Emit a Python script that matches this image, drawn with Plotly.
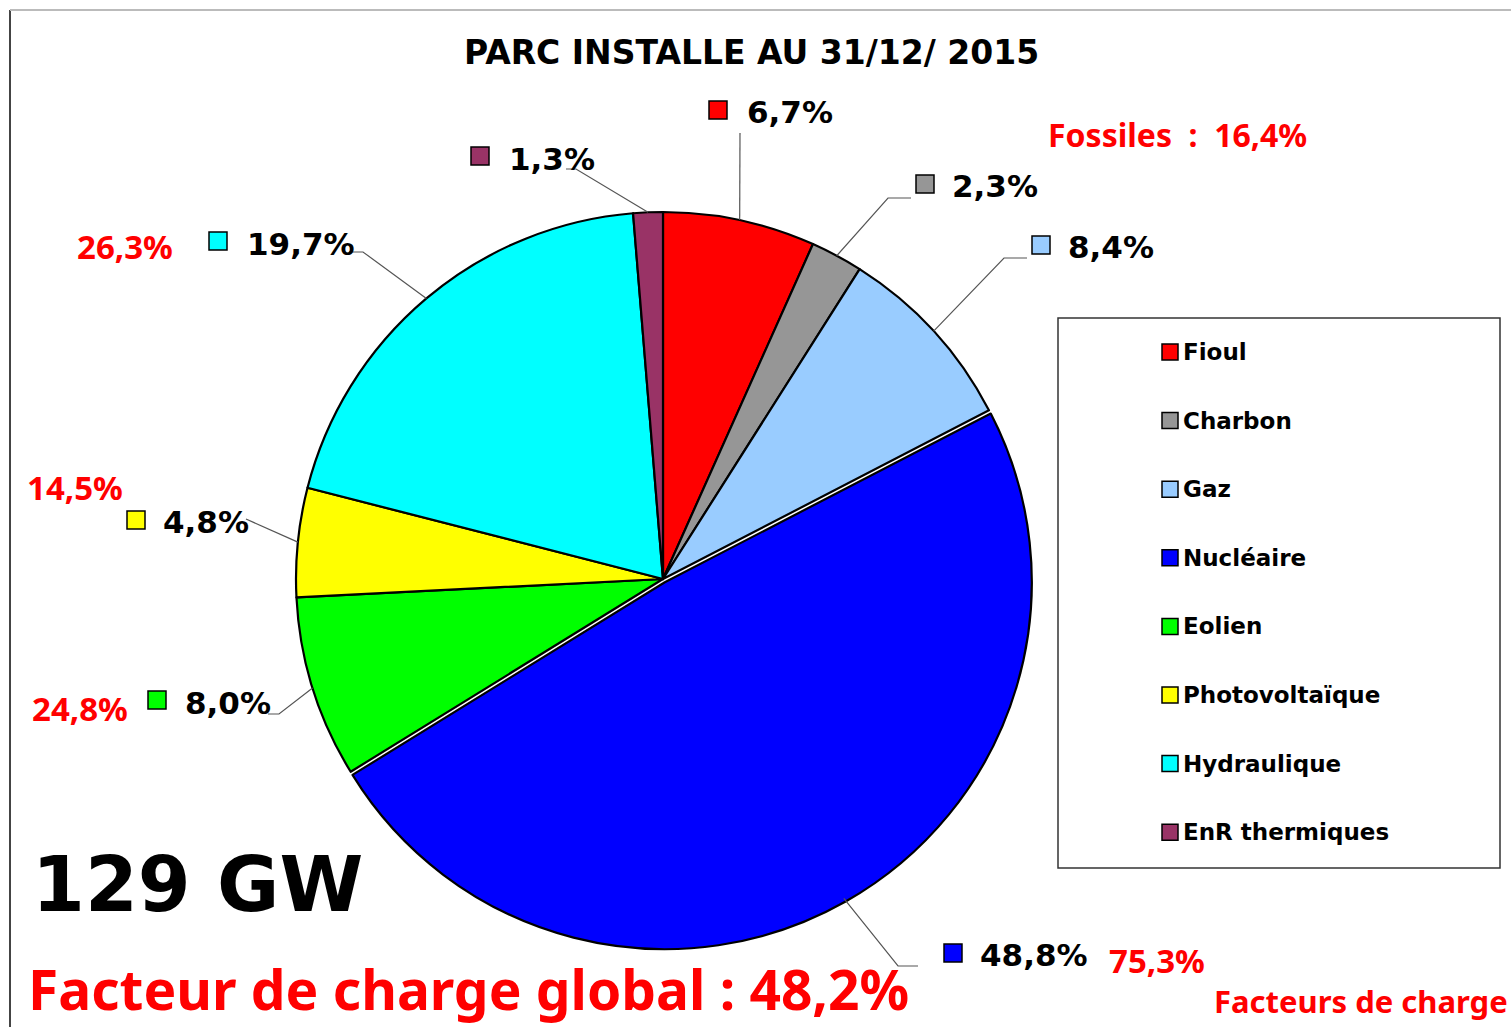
import math
import plotly.graph_objects as go

# ---------------- data ----------------
categories = ["Fioul", "Charbon", "Gaz", "Nucléaire", "Eolien", "Photovoltaïque", "Hydraulique", "EnR thermiques"]
shares = [6.7, 2.3, 8.4, 48.8, 8.0, 4.8, 19.7, 1.3]
share_labels = ["6,7%", "2,3%", "8,4%", "48,8%", "8,0%", "4,8%", "19,7%", "1,3%"]
load_factor_labels = {"Nucléaire": "75,3%", "Eolien": "24,8%", "Photovoltaïque": "14,5%", "Hydraulique": "26,3%"}
title_text = "PARC INSTALLE AU 31/12/ 2015"
fossil_text = "Fossiles  :  16,4%"
total_text = "129 GW"
global_lf_text = "Facteur de charge global : 48,2%"
lf_caption = "Facteurs de charge"

# ---------------- styles / layout ----------------
colors = ["#FF0000", "#969696", "#99CCFF", "#0000FF", "#00FF00", "#FFFF00", "#00FFFF", "#993366"]
pulls = [0, 0, 0, 0.01, 0, 0, 0, 0]
W, H = 1511, 1027
CX, CY, R = 663, 579, 367          # pie centre / radius in pixels
HALF = R * (1 + max(pulls))

def fx(x):
    return x / W

def fy(y):
    return 1 - y / H

# label placement (pixel layout): square centre, text left, text centre y, leader bend points
label_layout = [
    dict(sq=(718, 110), tx=745, ty=112, bend=[(740, 133)]),
    dict(sq=(925, 184), tx=950, ty=186, bend=[(888, 198), (911, 198)]),
    dict(sq=(1041, 245), tx=1066, ty=247, bend=[(1004, 258), (1027, 258)]),
    dict(sq=(953, 953), tx=978, ty=955, bend=[(898, 966), (918, 966)]),
    dict(sq=(157, 700), tx=183, ty=703, bend=[(279, 714), (268, 714)]),
    dict(sq=(136, 520), tx=161, ty=522, bend=[(246, 519)]),
    dict(sq=(218, 241), tx=245, ty=244, bend=[(363, 252), (349, 252)]),
    dict(sq=(480, 156), tx=507, ty=159, bend=[(576, 169), (566, 169)]),
]
lf_pos = {"Nucléaire": (1107, 960), "Eolien": (30, 708), "Photovoltaïque": (25, 488), "Hydraulique": (75, 247)}

BLACK_FONT = "DejaVu Sans"
RED_FONT = "Noto Sans"

fig = go.Figure()
fig.add_trace(go.Pie(
    labels=categories, values=shares, sort=False, direction="clockwise", rotation=0,
    marker=dict(colors=colors, line=dict(color="black", width=2.2)),
    pull=pulls, textinfo="none", hoverinfo="label+percent", showlegend=False,
    domain=dict(x=[fx(CX - HALF), fx(CX + HALF)], y=[fy(CY + HALF), fy(CY - HALF)]),
))

shapes = []
annotations = []

# frame
shapes.append(dict(type="line", xref="paper", yref="paper", x0=fx(10), x1=fx(10), y0=fy(10), y1=0,
                   line=dict(color="#444444", width=2)))
shapes.append(dict(type="line", xref="paper", yref="paper", x0=fx(10), x1=1, y0=fy(10), y1=fy(10),
                   line=dict(color="#BBBBBB", width=2)))

# slice labels with leader lines
total = sum(shares)
cum = 0.0
for i, (cat, v) in enumerate(zip(categories, shares)):
    mid = (cum + v / 2) / total * 2 * math.pi
    cum += v
    ex = CX + R * math.sin(mid)
    ey = CY - R * math.cos(mid)
    lay = label_layout[i]
    pts = [(ex, ey)] + lay["bend"]
    path = "M " + " L ".join(f"{fx(px)},{fy(py)}" for px, py in pts)
    shapes.append(dict(type="path", xref="paper", yref="paper", path=path,
                       line=dict(color="#555555", width=1.2)))
    sx, sy = lay["sq"]
    shapes.append(dict(type="rect", xref="paper", yref="paper",
                       x0=fx(sx - 9), x1=fx(sx + 9), y0=fy(sy + 9), y1=fy(sy - 9),
                       fillcolor=colors[i], line=dict(color="black", width=1.5)))
    annotations.append(dict(xref="paper", yref="paper", x=fx(lay["tx"]), y=fy(lay["ty"]),
                            xanchor="left", yanchor="middle", showarrow=False,
                            text=share_labels[i],
                            font=dict(family=BLACK_FONT, size=31, color="black", weight="bold")))

# load-factor labels (red)
for cat, txt in load_factor_labels.items():
    x, y = lf_pos[cat]
    annotations.append(dict(xref="paper", yref="paper", x=fx(x), y=fy(y), xanchor="left", yanchor="middle",
                            showarrow=False, text="<b>" + txt + "</b>",
                            font=dict(family=RED_FONT, size=33, color="#FF0000")))

# legend box
shapes.append(dict(type="rect", xref="paper", yref="paper", x0=fx(1058), x1=fx(1500), y0=fy(868), y1=fy(318),
                   line=dict(color="#333333", width=1.5), fillcolor="rgba(0,0,0,0)"))
for i, cat in enumerate(categories):
    yc = 352 + i * 68.6
    shapes.append(dict(type="rect", xref="paper", yref="paper",
                       x0=fx(1162), x1=fx(1178), y0=fy(yc + 8), y1=fy(yc - 8),
                       fillcolor=colors[i], line=dict(color="black", width=1.5)))
    annotations.append(dict(xref="paper", yref="paper", x=fx(1181), y=fy(yc), xanchor="left", yanchor="middle",
                            showarrow=False, text=cat,
                            font=dict(family=BLACK_FONT, size=23, color="black", weight="bold")))

# titles and captions
annotations.append(dict(xref="paper", yref="paper", x=fx(751), y=fy(52), xanchor="center", yanchor="middle",
                        showarrow=False, text=title_text,
                        font=dict(family=BLACK_FONT, size=33, color="black", weight="bold")))
annotations.append(dict(xref="paper", yref="paper", x=fx(1046), y=fy(135), xanchor="left", yanchor="middle",
                        showarrow=False, text="<b>" + fossil_text + "</b>",
                        font=dict(family=RED_FONT, size=32, color="#FF0000")))
annotations.append(dict(xref="paper", yref="paper", x=fx(30), y=fy(884), xanchor="left", yanchor="middle",
                        showarrow=False, text=total_text,
                        font=dict(family=BLACK_FONT, size=76, color="black", weight="bold")))
annotations.append(dict(xref="paper", yref="paper", x=fx(26), y=fy(988), xanchor="left", yanchor="middle",
                        showarrow=False, text="<b>" + global_lf_text + "</b>",
                        font=dict(family=RED_FONT, size=55, color="#FF0000")))
annotations.append(dict(xref="paper", yref="paper", x=fx(1212), y=fy(1001), xanchor="left", yanchor="middle",
                        showarrow=False, text="<b>" + lf_caption + "</b>",
                        font=dict(family=RED_FONT, size=31, color="#FF0000")))

fig.update_layout(
    width=W, height=H, margin=dict(l=0, r=0, t=0, b=0),
    paper_bgcolor="white", plot_bgcolor="white",
    shapes=shapes, annotations=annotations, showlegend=False,
)
fig.write_html("out.html", config={"displayModeBar": False},
               post_script="document.body.style.margin='0';document.body.style.padding='0';")
